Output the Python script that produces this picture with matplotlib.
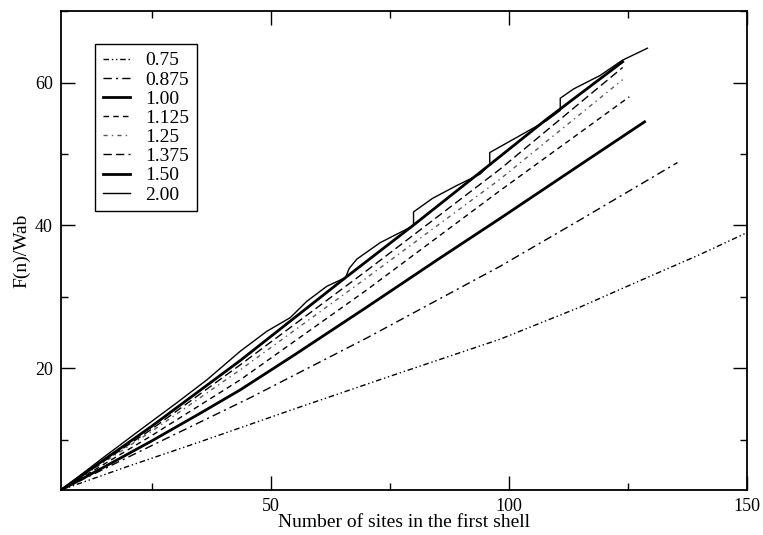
import matplotlib.pyplot as plt
from matplotlib.ticker import MultipleLocator

plt.rcParams['font.family'] = ['Liberation Serif', 'DejaVu Serif']

# curve labels (legend order)
labels = ["0.75", "0.875", "1.00", "1.125", "1.25", "1.375", "1.50", "2.00"]

# values
x_075 = [6, 20, 35, 54.8, 75, 98.2, 115, 127.6, 140, 150]
y_075 = [3, 6.3, 9.7, 14.3, 18.9, 24.1, 28.6, 32.3, 35.9, 39.0]

x_0875 = [6, 25, 45.7, 70, 98.2, 115, 135.4]
y_0875 = [3, 9.2, 15.9, 24.2, 34.3, 40.8, 48.8]

x_100 = [6, 15, 25, 35, 43.6, 55, 70, 85, 98.2, 115, 128.5]
y_100 = [3, 6.2, 9.85, 13.65, 17.0, 21.9, 28.5, 35.2, 41.0, 48.5, 54.5]

x_1125 = [6, 25, 43.6, 70, 98.2, 125.3]
y_1125 = [3, 10.6, 18.4, 30.9, 44.9, 58.0]

x_125 = [6, 25, 43.6, 70, 98.2, 123.9]
y_125 = [3, 11.2, 19.8, 32.6, 46.5, 60.4]

x_1375 = [6, 25, 43.6, 70, 98.2, 123.9]
y_1375 = [3, 11.5, 20.5, 33.6, 47.9, 62.1]

x_150 = [6, 25, 43.6, 65.7, 79.7, 95.8, 108, 110.8, 123.9]
y_150 = [3, 11.9, 21.1, 32.7, 39.9, 48.4, 54.9, 56.3, 62.9]

x_200 = [6, 15, 22.6, 30.3, 36.6, 43.6, 49.2, 54.1, 57.6, 61.8, 65.7, 66.5,
         68.1, 73, 78.6, 80, 80, 84, 89.1, 94, 95.8, 96, 96, 100, 104, 108,
         110.8, 110.8, 113.6, 119.2, 123.8, 129.1]
y_200 = [3, 7.6, 11.4, 15.2, 18.4, 22.4, 25.2, 27.1, 29.4, 31.5, 32.7, 34.0,
         35.3, 37.6, 39.5, 40.0, 41.9, 43.8, 45.6, 47.2, 48.4, 48.5, 50.2, 51.7,
         53.2, 54.7, 56.1, 57.8, 59.1, 61.0, 63.1, 64.8]

series = [(x_075, y_075), (x_0875, y_0875), (x_100, y_100), (x_1125, y_1125),
          (x_125, y_125), (x_1375, y_1375), (x_150, y_150), (x_200, y_200)]

styles = [
    dict(ls=(0, (4, 2, 1, 2, 1, 2)), lw=1.0, color='k'),
    dict(ls=(0, (6, 3, 1.5, 3)), lw=1.0, color='k'),
    dict(ls='-', lw=2.0, color='k'),
    dict(ls=(0, (4, 3)), lw=1.0, color='k'),
    dict(ls=(0, (3, 3, 1, 3)), lw=1.0, color='0.35'),
    dict(ls=(0, (6, 3)), lw=1.0, color='k'),
    dict(ls='-', lw=2.0, color='k'),
    dict(ls='-', lw=1.0, color='k'),
]

fig = plt.figure(figsize=(7.63, 5.35), dpi=100)
ax = fig.add_axes([0.080, 0.0841, 0.899, 0.8953])

for (xs, ys), lab, st in zip(series, labels, styles):
    ax.plot(xs, ys, label=lab, **st)

ax.set_xlim(6, 150)
ax.set_ylim(3, 70)

ax.xaxis.set_major_locator(MultipleLocator(50))
ax.xaxis.set_minor_locator(MultipleLocator(25))
ax.yaxis.set_major_locator(MultipleLocator(20))
ax.yaxis.set_minor_locator(MultipleLocator(10))
ax.tick_params(which='both', direction='in', top=True, right=True,
               labelsize=13, width=1.0)
ax.tick_params(which='major', length=10, pad=6)
ax.tick_params(which='minor', length=5)
for sp in ax.spines.values():
    sp.set_linewidth(1.3)

ax.set_xlabel('Number of sites in the first shell', fontsize=14, labelpad=-1)
ax.set_ylabel('F(n)/Wab', fontsize=14, labelpad=3)

leg = ax.legend(loc='upper left', bbox_to_anchor=(0.0496, 0.931),
                borderaxespad=0, fontsize=14, handlelength=1.4,
                labelspacing=0.08, fancybox=False, framealpha=1,
                edgecolor='k', borderpad=0.4, handletextpad=0.8)
leg.get_frame().set_linewidth(1.0)

fig.savefig('out.png', dpi=100)
